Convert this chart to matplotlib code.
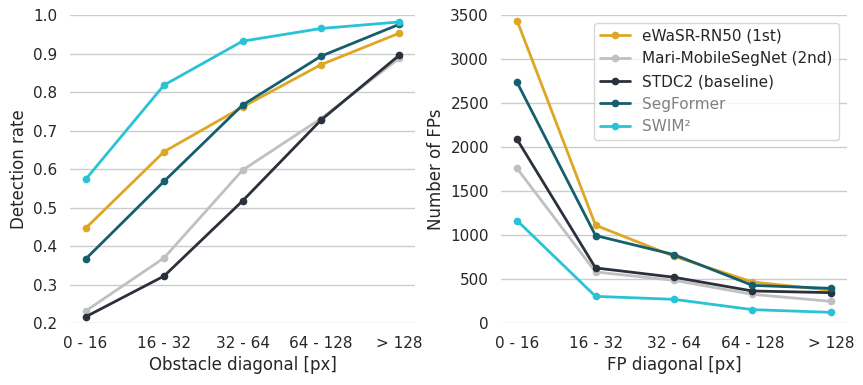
import numpy as np
import matplotlib
matplotlib.use('Agg')
import matplotlib.pyplot as plt
import seaborn as sns

bins = ['0 - 16', '16 - 32', '32 - 64', '64 - 128', '> 128']
methods = ['eWaSR-RN50 (1st)', 'Mari-MobileSegNet (2nd)', 'STDC2 (baseline)', 'SegFormer', 'SWIM²']
colors = ['#DFA624', '#C0C0C0', '#2A313C', '#155E6B', '#2AC3D5']

# detection rate per obstacle size
det_ewasr = [0.446, 0.645, 0.761, 0.871, 0.953]
det_mari = [0.231, 0.369, 0.597, 0.731, 0.888]
det_stdc = [0.216, 0.322, 0.517, 0.727, 0.896]
det_segformer = [0.366, 0.568, 0.766, 0.893, 0.976]
det_swim = [0.573, 0.818, 0.932, 0.965, 0.982]

# number of false positives per FP size
fp_ewasr = [3436, 1111, 758, 466, 372]
fp_mari = [1756, 580, 485, 326, 246]
fp_stdc = [2086, 626, 520, 364, 345]
fp_segformer = [2734, 994, 777, 428, 394]
fp_swim = [1164, 303, 269, 152, 121]

det = [det_ewasr, det_mari, det_stdc, det_segformer, det_swim]
fps = [fp_ewasr, fp_mari, fp_stdc, fp_segformer, fp_swim]

sns.set_theme(style='whitegrid', context='notebook')
plt.rcParams['font.family'] = ['DejaVu Sans']

fig, (ax1, ax2) = plt.subplots(1, 2, figsize=(8.63, 3.85), dpi=100)
ax1.set_position([0.081, 0.161, 0.400, 0.800])
ax2.set_position([0.581, 0.161, 0.400, 0.800])

x = np.arange(len(bins))
for vals, name, c in zip(det, methods, colors):
    ax1.plot(x, vals, '-o', color=c, label=name, lw=2, ms=4.5)
for vals, name, c in zip(fps, methods, colors):
    ax2.plot(x, vals, '-o', color=c, label=name, lw=2, ms=4.5)

ax1.set_ylim(0.2, 1.0)
ax1.set_yticks(np.arange(0.2, 1.01, 0.1))
ax1.set_ylabel('Detection rate')
ax1.set_xlabel('Obstacle diagonal [px]')

ax2.set_ylim(0, 3500)
ax2.set_yticks(np.arange(0, 3501, 500))
ax2.set_ylabel('Number of FPs')
ax2.set_xlabel('FP diagonal [px]')

for ax in (ax1, ax2):
    ax.set_xticks(x)
    ax.set_xticklabels(bins)
    ax.grid(axis='x', visible=False)
    ax.tick_params(axis='both', labelsize=11, pad=3)
    sns.despine(ax=ax, left=True, bottom=True)

leg = ax2.legend(loc='upper right', fontsize=11)
for t in leg.get_texts()[3:]:
    t.set_color('gray')

fig.savefig('out.png', dpi=100)
